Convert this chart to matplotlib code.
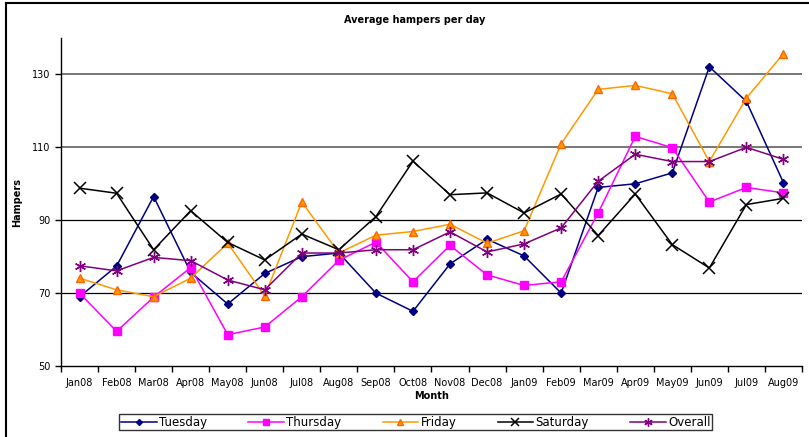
import matplotlib
matplotlib.use('Agg')
import matplotlib.pyplot as plt
from matplotlib.lines import Line2D
import numpy as np

months = ['Jan08', 'Feb08', 'Mar08', 'Apr08', 'May08', 'Jun08', 'Jul08', 'Aug08', 'Sep08', 'Oct08',
          'Nov08', 'Dec08', 'Jan09', 'Feb09', 'Mar09', 'Apr09', 'May09', 'Jun09', 'Jul09', 'Aug09']

tuesday = [69, 77.4, 96.5, 75.7, 67, 75.4, 80, 81, 70, 65,
           78, 84.8, 80.2, 70, 99, 100, 103, 132.1, 122.6, 100.3]
thursday = [70, 59.5, 68.9, 77, 58.6, 60.7, 69, 79, 84, 73.1,
            83.1, 75, 72.1, 73.1, 92, 113, 109.9, 95, 99, 97.5]
friday = [74.1, 70.9, 69, 74.1, 83.7, 69.2, 95, 81, 85.9, 86.9,
          88.9, 83.7, 87.1, 111, 125.9, 127, 124.7, 106.1, 123.5, 135.7]
saturday = [98.8, 97.4, 81.9, 92.6, 83.9, 79.1, 86.2, 81.9, 91, 106.2,
            97, 97.5, 92, 97.2, 85.8, 97.2, 83.3, 76.9, 94.3, 96]
overall = [77.5, 76.1, 79.8, 78.9, 73.6, 70.9, 81, 81, 81.9, 81.9,
           86.8, 81.3, 83.5, 87.9, 100.7, 108.1, 106.1, 106.1, 110, 106.7]

fig = plt.figure(figsize=(8.09, 4.37), dpi=100)
ax = fig.add_axes([0.0754, 0.1625, 0.9159, 0.7505])

x = np.arange(len(months))

# gridlines (upper ones look lighter in the reference)
for yv, col, lw in [(130, '#777777', 1.4), (110, '#777777', 1.4), (90, 'black', 0.9), (70, 'black', 0.9)]:
    ax.axhline(yv, color=col, lw=lw, zorder=1)

ax.plot(x, tuesday, color='#000080', lw=1.1, marker='D', ms=4, mfc='#000080', mec='#000080',
        label='Tuesday', zorder=3)
ax.plot(x, thursday, color='#FF00FF', lw=1.1, marker='s', ms=6, mfc='#FF00FF', mec='#FF00FF',
        label='Thursday', zorder=3)
ax.plot(x, friday, color='#FF9900', lw=1.1, marker='^', ms=6, mfc='#FF9900', mec='#FF6600',
        label='Friday', zorder=3)
ax.plot(x, saturday, color='black', lw=1.1, marker='x', ms=8, mew=1.1,
        label='Saturday', zorder=3)
ax.plot(x, overall, color='#800080', lw=1.1, marker=(6, 2, 0), ms=8, mew=1.0, mec='#800080',
        label='Overall', zorder=3)

ax.set_xlim(-0.5, len(months) - 0.5)
ax.set_ylim(50, 140)
ax.set_yticks([50, 70, 90, 110, 130])
ax.set_xticks(x)
ax.set_xticklabels(months, fontsize=7)
ax.set_xticks(np.arange(-0.5, len(months)), minor=True)
ax.tick_params(axis='x', which='major', length=0, pad=9)
ax.tick_params(axis='x', which='minor', length=4, width=1, direction='out')
ax.tick_params(axis='y', labelsize=7, length=4, width=1, direction='out')

for s in ['top', 'right']:
    ax.spines[s].set_visible(False)
for s in ['left', 'bottom']:
    ax.spines[s].set_linewidth(1)

ax.set_xlabel('Month', fontsize=7, fontweight='bold', labelpad=2)
ax.set_ylabel('Hampers', fontsize=7, fontweight='bold')
ax.yaxis.set_label_coords(-0.053, 0.5)

fig.text(0.512, 0.955, 'Average hampers per day', ha='center', va='center',
         fontsize=7, fontweight='bold')

leg = fig.legend(loc='center', bbox_to_anchor=(0.514, 0.034), ncol=5, fontsize=8.5,
                 frameon=True, fancybox=False, shadow=False, borderpad=0.15,
                 columnspacing=3.5, handlelength=3, handletextpad=0.2, markerscale=0.75)
leg.get_frame().set_edgecolor('black')
leg.get_frame().set_linewidth(1)

# chart area border (left and top edges visible)
fig.add_artist(Line2D([0.0075, 0.0075], [0, 0.993], color='black', lw=1.5))
fig.add_artist(Line2D([0.0075, 1], [0.993, 0.993], color='black', lw=1.5))

fig.savefig('out.png', dpi=100)
